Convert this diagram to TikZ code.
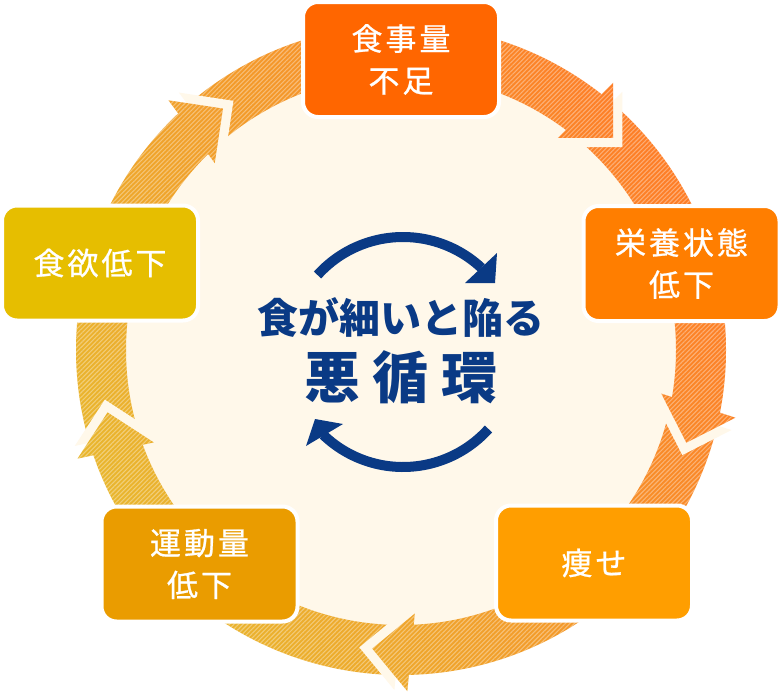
\documentclass[tikz,border=0pt]{standalone}
\usepackage{fontspec}
\newfontfamily\jpfont{Noto Sans CJK JP}
\usetikzlibrary{patterns.meta}
\definecolor{cream}{HTML}{FFF8EA}
\definecolor{ringY}{HTML}{E8B82E}
\definecolor{ringO}{HTML}{FF7A26}
\definecolor{navy}{HTML}{0A3A85}
\definecolor{cA}{HTML}{FF6600}
\definecolor{cB}{HTML}{FF7E00}
\definecolor{cC}{HTML}{FF9E00}
\definecolor{cD}{HTML}{EA9C00}
\definecolor{cE}{HTML}{E6BE00}
\newcommand\trk{\hspace{3pt}}
\newcommand\boxfont{\jpfont\addfontfeature{FakeBold=0.8}\fontsize{31}{42}\selectfont}
\newcommand\ringpaint{%
  \shade[bottom color=ringY, top color=ringO, shading angle=-60] (40,0) rectangle (770,691);
  \fill[pattern={Lines[angle=45,distance=3.2pt,line width=1.1pt]}, pattern color=white, opacity=0.35] (40,0) rectangle (770,691);
}
\tikzset{
  cbox/.style={draw=white, line width=4pt, rounded corners=15pt, minimum width=196pt,
    minimum height=115pt, text=white, align=center, font=\boxfont, inner sep=0pt},
  cyc/.style={draw=navy, line width=10pt},
  title/.style={text=navy, inner sep=0pt}
}
\begin{document}
\begin{tikzpicture}[x=1pt,y=-1pt]
\useasboundingbox (0,0) rectangle (782,691);
\fill[white] (0,0) rectangle (782,691);
\coordinate (C) at (401,350);
\fill[cream] (C) circle[radius=300pt];
% ring
\begin{scope}[even odd rule]
  \clip (C) circle[radius=325pt] (C) circle[radius=275pt];
  \ringpaint
\end{scope}
% arrow heads of the ring
\foreach \a/\n in {45/h1,-18/h2,-95.5/h3,-168/h4,-233.6/h5} {
  \pgfmathsetmacro\tx{401+300*cos(\a)}
  \pgfmathsetmacro\ty{350-300*sin(\a)}
  \pgfmathsetmacro\dx{sin(\a)}
  \pgfmathsetmacro\dy{cos(\a)}
  \pgfmathsetmacro\nx{cos(\a)}
  \pgfmathsetmacro\ny{-sin(\a)}
  \coordinate (\n-t) at (\tx,\ty);
  \coordinate (\n-a) at ({\tx-39*\dx+39*\nx},{\ty-39*\dy+39*\ny});
  \coordinate (\n-b) at ({\tx-39*\dx-39*\nx},{\ty-39*\dy-39*\ny});
  \fill[cream] ([shift={({13*\dx},{13*\dy})}]\n-t) -- ([shift={({13*\dx},{13*\dy})}]\n-a)
     -- ([shift={({13*\dx},{13*\dy})}]\n-b) -- cycle;
  \begin{scope}
    \clip (\n-t) -- (\n-a) -- (\n-b) -- cycle;
    \ringpaint
  \end{scope}
}
% boxes
\node[cbox, fill=cA] (b1) at (401,59.5) {食\trk{}事\trk{}量\\不\trk{}足};
\node[cbox, fill=cB] (b2) at (681.5,263.5) {栄\trk{}養\trk{}状\trk{}態\\低\trk{}下};
\node[cbox, fill=cC] (b3) at (594,563) {痩\trk{}せ};
\node[cbox, fill=cD] (b4) at (199.5,564) {運\trk{}動\trk{}量\\低\trk{}下};
\node[cbox, fill=cE] (b5) at (100,263) {食\trk{}欲\trk{}低\trk{}下};
% center
\coordinate (C2) at (403,352);
\draw[cyc] (C2) ++(138:115pt) arc[start angle=138, end angle=47, radius=115pt];
\fill[navy] (495,283) -- (497,253) -- (465,283) -- cycle;
\draw[cyc] (C2) ++(-42:115pt) arc[start angle=-42, end angle=-134, radius=115pt];
\fill[navy] (315,419) -- (306,446) -- (343,424) -- cycle;
\node[title, font=\jpfont\bfseries\fontsize{41}{41}\selectfont] (t1) at (401,317) {食が細いと陥る};
\node[title, font=\jpfont\bfseries\fontsize{56}{56}\selectfont] (t2) at (401,377) {悪\hspace{13pt}循\hspace{13pt}環};
\end{tikzpicture}
\end{document}
